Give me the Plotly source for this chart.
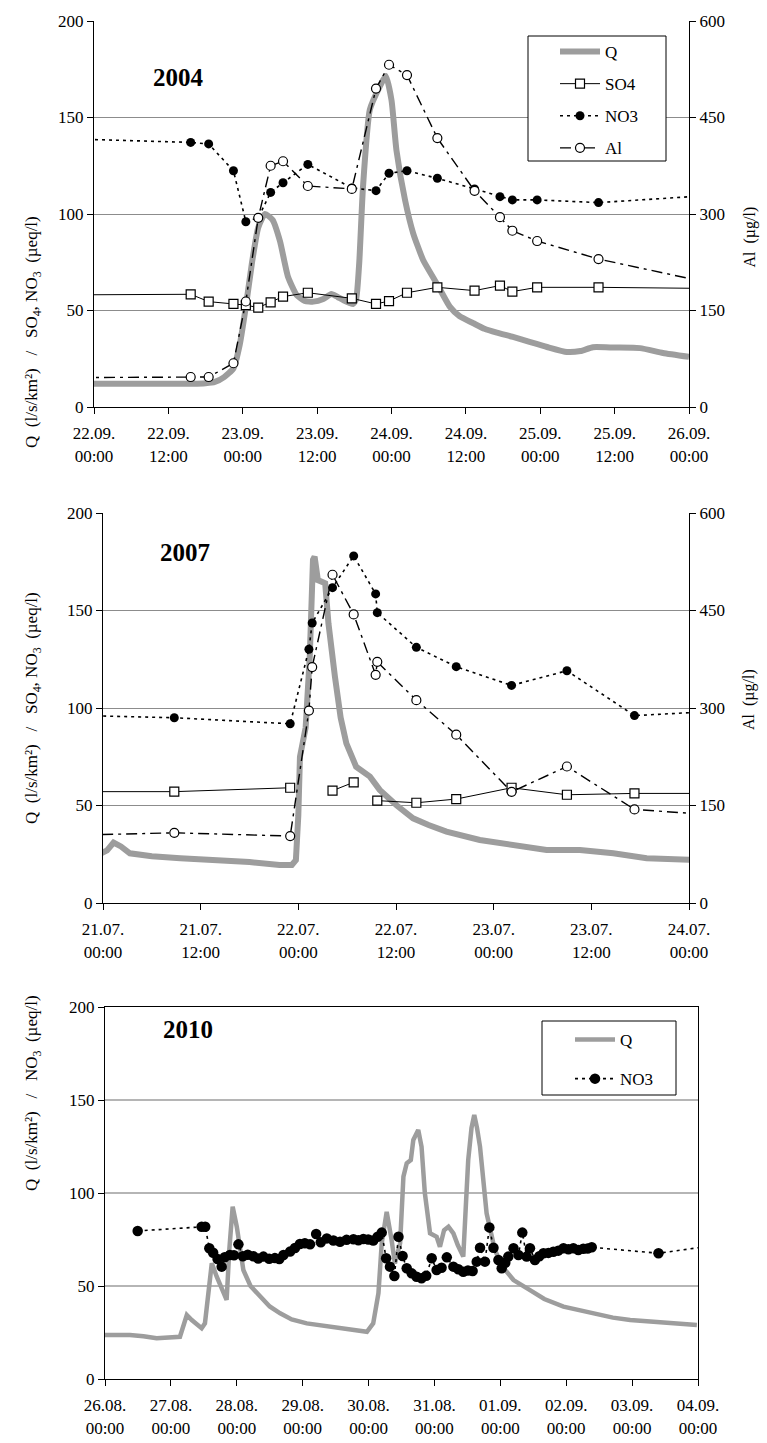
import pandas as pd
import plotly.graph_objects as go

W, H = 767, 1443
FONT = "Liberation Serif, Times New Roman, serif"

# ---------------- 2004 event (hours after 22.09.2004 00:00) ----------------
t04 = [-10, 15.6, 18.5, 22.5, 24.5, 26.5, 28.5, 30.5, 34.5, 41.6, 45.5, 47.6,
       50.5, 55.4, 61.4, 65.5, 67.5, 71.5, 81.4, 106]
so4_04 = [58.0, 58.4, 54.6, 53.4, 52.8, 51.5, 54.2, 57.2, 59.2, 56.3, 53.4, 54.9,
          59.2, 62.0, 60.3, 62.9, 59.8, 62.0, 62.0, 61.2]
no3_04 = [139.5, 137.1, 136.3, 122.4, 96.0, 98.0, 111.2, 116.2, 125.7, 113.5, 112.1, 121.1,
          122.4, 118.5, 113.0, 109.0, 107.3, 107.3, 105.9, 111.0]
al_04 = [45.5, 46.6, 46.6, 68, 164, 294, 375, 382, 343.5, 339, 495, 532,
         516, 418, 336, 295, 274, 258, 230, 179]
q04_t = [0, 6, 12, 16, 18, 19.5, 21, 22.5, 23.5, 24.5, 25.5, 26.5, 27.6, 28.8, 30,
         31.3, 32.7, 34, 35.4, 37, 38.3, 39.3, 40.2, 41.8, 42.3, 42.8, 43.4, 44.5,
         46.1, 47.1, 48, 48.8, 50.2, 51.5, 53.1, 55.3, 57.4, 59, 61.2, 63, 65, 67.6,
         70, 73.1, 76.3, 78.5, 80.5, 84, 88.1, 91.8, 96]
q04_v = [12, 12, 12, 12, 12.3, 13, 15.5, 20, 32, 52, 75, 93, 100, 97, 86,
         67.5, 58, 55, 54.6, 56, 58.5, 57, 55.4, 53.4, 56, 75, 114, 154,
         166, 171.5, 159, 133, 107, 90, 76.2, 64, 52, 47, 43.4, 40.5, 38.5, 36.3,
         34, 31.1, 28.5, 29, 31, 30.8, 30.5, 28, 26]

# ---------------- 2007 event (hours after 21.07.2007 00:00) ----------------
t07 = [-6, 8.76, 23.0, 25.3, 25.7, 28.2, 30.8, 33.5, 33.7, 38.5, 43.4, 50.2, 57.0, 65.3, 80]
so4_07 = [57.1, 57.1, 59.1, None, None, 57.6, 61.9, None, 52.5, 51.4, 53.3, 59.1, 55.5, 56.2, 56.2]
no3_07 = [96.5, 95.0, 91.9, 130.1, 143.6, 161.7, 178.0, 158.5, 148.9, 131.1, 121.2, 111.6, 119.1, 96.1, 99.4]
al_07 = [103.5, 108, 103, 296, 363, 505, 444, 351, 371, 312, 259, 171, 210, 144, 131]
q07_t = [-0.5, 0.5, 1.3, 2.2, 3.3, 6, 9.5, 12, 15.6, 18, 21.7, 23.2, 23.7, 24.0, 24.2,
         24.9, 25.4, 25.8, 26.0, 26.4, 27.3, 27.7, 28.5, 29.2, 29.9, 31.1, 32.8, 34,
         36.1, 38.1, 40, 42.2, 46.3, 50.4, 54.5, 58.6, 62.7, 66.8, 72.5]
q07_v = [25, 27, 31, 29, 25.5, 24, 22.9, 22.5, 21.7, 21, 19.5, 19.5, 22, 45, 75,
         90, 126, 176, 177.6, 165.6, 164, 143.4, 116, 95, 81.9, 69.9, 64.8, 58,
         50, 43.4, 40, 36.6, 32.3, 29.7, 27.2, 27.2, 25.5, 22.9, 22.1]

# ---------------- 2010 event (hours after 26.08.2010 00:00) ----------------
no3_10_t = [11.9, 35.2, 36.5, 38.0, 39.4, 41.0, 42.5, 43.6, 45.5, 47.0, 48.6, 50.2, 52.0,
            54.0, 55.8, 57.7, 59.8, 61.9, 63.5, 65.0, 67.4, 69.2, 71.0, 72.8, 74.7, 76.9,
            78.6, 80.8, 83.2, 85.6, 88.0, 90.5, 92.3, 94.1, 95.9, 97.7, 99.3, 100.8, 102.4,
            103.8, 105.4, 106.9, 108.4, 109.9, 111.7, 113.5, 115.3, 117.0, 119.0, 120.8,
            122.6, 124.5, 126.9, 128.7, 130.5, 132.2, 133.9, 135.4, 136.6, 138.4, 140.0,
            141.5, 143.3, 144.5, 145.8, 146.9, 148.8, 150.6, 152.0, 153.6, 154.8, 156.6,
            158.2, 159.7, 161.5, 163.3, 165.1, 167.0, 168.8, 170.6, 172.4, 174.2, 175.8,
            177.3, 201.6, 228]
no3_10_v = [79.6, 81.9, 81.9, 70.3, 67.9, 64.5, 60.4, 65.5, 66.7, 66.5, 72.4, 66.0, 66.8,
            66.0, 64.8, 65.8, 64.6, 65.0, 64.5, 66.7, 68.5, 70.4, 72.6, 73.0, 72.4, 78.0,
            73.5, 75.6, 74.5, 73.8, 74.8, 75.1, 74.6, 75.3, 75.0, 74.4, 76.5, 78.7, 64.9,
            60.4, 55.4, 76.5, 66.1, 59.5, 56.8, 55.0, 54.1, 55.5, 64.9, 58.6,
            59.8, 65.4, 60.4, 59.0, 57.7, 58.3, 58.1, 63.1, 70.6, 63.1, 81.5,
            70.6, 64.0, 59.5, 62.5, 65.8, 70.3, 66.7, 78.7, 65.8, 70.3, 64.0,
            66.0, 67.6, 67.8, 68.4, 69.0, 70.3, 69.8, 70.3, 69.4, 70.0, 70.2,
            70.8, 67.6, 73.0]
q10_t = [0, 9.1, 14, 18.8, 27.3, 29.8, 31.6, 33.5, 35.2, 36.4, 37.5, 38.9, 40.7, 42.5,
         44.3, 45.3, 46.5, 48, 50.4, 53, 56.5, 60, 63.8, 68, 73.5, 80, 88.1, 95.4, 97.7,
         99.6, 100.8, 102.6, 104.4, 105.6, 107.5, 108.7, 109.9, 111.4, 112.3, 113.5,
         114.1, 115.3, 116.5, 118.4, 120.8, 122, 123.5, 125.1, 126.9, 128.5, 130.5,
         131.5, 132.3, 133.5, 134.5, 135.5, 136.6, 139, 142, 145, 148.8, 154.8, 160,
         167, 173, 179.1, 185, 191.3, 197, 203.4, 209, 215.6]
q10_v = [23.7, 23.7, 23, 21.9, 22.7, 34.4, 31.7, 29, 27.3, 29.9, 45, 62.2, 55, 48,
         42.5, 70, 92.6, 81.9, 58.6, 50, 44.2, 39, 35.3, 32, 29.9, 28.5, 27.3, 25.4, 29.9,
         46.1, 73, 89.9, 74.7, 62.2, 73, 108.8, 116, 117.7, 128.5, 132,
         133.9, 124.9, 100, 78.3, 76.5, 71.1, 80, 81.9, 78.3, 72, 65.8,
         95, 117.7, 135, 141.9, 135, 124.9, 89.1, 69.4, 60, 53.2, 47.8, 43,
         38.9, 37, 35.3, 33, 31.7, 31, 29.9, 29.3, 29]

years = ["2004", "2007", "2010"]
starts = ["2004-09-22", "2007-07-21", "2010-08-26"]
spans_h = [96, 72, 216]
tick_step_h = [12, 12, 24]

NB = "\u00a0"
y_title_full = ("Q" + NB * 2 + "(l/s/km²)" + NB * 3 + "/" + NB * 3 +
                "SO<sub>4</sub>, NO<sub>3</sub>" + NB * 2 + "(µeq/l)")
y_title_no3 = ("Q" + NB * 2 + "(l/s/km²)" + NB * 3 + "/" + NB * 3 +
               "NO<sub>3</sub>" + NB * 2 + "(µeq/l)")
al_title = "Al" + NB * 2 + "(µg/l)"

# plot-area boxes in pixels: (left, top, right, bottom)
boxes = [(94, 21, 689, 407), (103, 513, 689, 903), (105, 1007, 698, 1379)]


def px_x(v):
    return v / W


def px_y(v):
    return 1 - v / H


def to_time(start, hours):
    base = pd.Timestamp(start)
    return [base + pd.Timedelta(hours=h) for h in hours]


Q_COLOR = "#9d9d9d"
SO4_MARK = dict(symbol="square", size=9, color="white", line=dict(color="black", width=1.2))
NO3_MARK = dict(symbol="circle", size=9, color="black")
AL_MARK = dict(symbol="circle", size=9, color="white", line=dict(color="black", width=1.2))
NO3_LINE = dict(color="black", width=1.6, dash="3px,4px")
AL_LINE = dict(color="black", width=1.4, dash="11px,5px,3px,5px")

fig = go.Figure()

# ---- panel 1: 2004 ----
fig.add_trace(go.Scatter(x=to_time(starts[0], q04_t), y=q04_v, mode="lines", name="Q",
                         line=dict(color=Q_COLOR, width=6, shape="spline", smoothing=0.5),
                         xaxis="x", yaxis="y", legendgroup="q", legend="legend"))
fig.add_trace(go.Scatter(x=to_time(starts[0], t04), y=so4_04, mode="lines+markers", name="SO4",
                         line=dict(color="black", width=1), marker=SO4_MARK,
                         xaxis="x", yaxis="y", legendgroup="so4", legend="legend"))
fig.add_trace(go.Scatter(x=to_time(starts[0], t04), y=no3_04, mode="lines+markers", name="NO3",
                         line=NO3_LINE, marker=NO3_MARK,
                         xaxis="x", yaxis="y", legendgroup="no3", legend="legend"))
fig.add_trace(go.Scatter(x=to_time(starts[0], t04), y=al_04, mode="lines+markers", name="Al",
                         line=AL_LINE, marker=AL_MARK,
                         xaxis="x", yaxis="y2", legendgroup="al", legend="legend"))

# ---- panel 2: 2007 ----
fig.add_trace(go.Scatter(x=to_time(starts[1], q07_t), y=q07_v, mode="lines", name="Q",
                         line=dict(color=Q_COLOR, width=6),
                         xaxis="x2", yaxis="y3", showlegend=False))
fig.add_trace(go.Scatter(x=to_time(starts[1], t07), y=so4_07, mode="lines+markers", name="SO4",
                         line=dict(color="black", width=1), marker=SO4_MARK, connectgaps=False,
                         xaxis="x2", yaxis="y3", showlegend=False))
fig.add_trace(go.Scatter(x=to_time(starts[1], t07), y=no3_07, mode="lines+markers", name="NO3",
                         line=NO3_LINE, marker=NO3_MARK,
                         xaxis="x2", yaxis="y3", showlegend=False))
fig.add_trace(go.Scatter(x=to_time(starts[1], t07), y=al_07, mode="lines+markers", name="Al",
                         line=AL_LINE, marker=AL_MARK,
                         xaxis="x2", yaxis="y4", showlegend=False))

# ---- panel 3: 2010 ----
fig.add_trace(go.Scatter(x=to_time(starts[2], q10_t), y=q10_v, mode="lines", name="Q",
                         line=dict(color=Q_COLOR, width=4.5),
                         xaxis="x3", yaxis="y5", legendgroup="q10", legend="legend2"))
fig.add_trace(go.Scatter(x=to_time(starts[2], no3_10_t), y=no3_10_v, mode="lines+markers", name="NO3",
                         line=dict(color="black", width=1.6, dash="3px,4px"),
                         marker=dict(symbol="circle", size=10.5, color="black"),
                         xaxis="x3", yaxis="y5", legendgroup="no310", legend="legend2"))

tickfont = dict(family=FONT, size=17, color="black")
common_x = dict(type="date", tickformat="%d.%m.<br>%H:%M", ticks="outside", ticklen=6,
                tickcolor="black", showline=True, linecolor="black", linewidth=1,
                showgrid=False, zeroline=False, tickfont=tickfont, automargin=False,
                ticklabelstandoff=5)
common_y = dict(range=[0, 200], dtick=50, ticks="outside", ticklen=6, tickcolor="black",
                showline=True, linecolor="black", linewidth=1, zeroline=False,
                tickfont=tickfont, automargin=False)
common_y2 = dict(range=[0, 600], dtick=150, side="right", ticks="outside", ticklen=6,
                 tickcolor="black", showline=True, linecolor="black", linewidth=1,
                 showgrid=False, zeroline=False, tickfont=tickfont, automargin=False)

layout = {}
x_names = ["xaxis", "xaxis2", "xaxis3"]
y_names = ["yaxis", "yaxis3", "yaxis5"]
y_refs = ["y", "y3", "y5"]
x_refs = ["x", "x2", "x3"]
for i in range(3):
    l, t, r, b = boxes[i]
    start = pd.Timestamp(starts[i])
    end = start + pd.Timedelta(hours=spans_h[i])
    xa = dict(common_x, domain=[px_x(l), px_x(r)], anchor=y_refs[i],
              range=[start, end], tick0=start, dtick=tick_step_h[i] * 3600 * 1000)
    ya = dict(common_y, domain=[px_y(b), px_y(t)], anchor=x_refs[i],
              gridcolor="#8c8c8c" if i < 2 else "#b5b5b5", gridwidth=1 if i < 2 else 1.5)
    if i == 2:
        xa["mirror"] = True
        ya["mirror"] = True
    layout[x_names[i]] = xa
    layout[y_names[i]] = ya

layout["yaxis2"] = dict(common_y2, overlaying="y", anchor="x")
layout["yaxis4"] = dict(common_y2, overlaying="y3", anchor="x2")

fig.update_layout(**layout)

annotations = []
# year labels
for (xc, yc), yr in zip([(151, 62), (158, 552), (161, 1045)], years):
    annotations.append(dict(x=px_x(xc), y=px_y(yc), xref="paper", yref="paper",
                            text="<b>%s</b>" % yr, showarrow=False,
                            font=dict(family=FONT, size=25, color="black")))
# axis titles
for yc, txt in [(214, y_title_full), (708, y_title_full), (1193, y_title_no3)]:
    annotations.append(dict(x=px_x(20), y=px_y(yc), xref="paper", yref="paper", text=txt,
                            textangle=-90, showarrow=False,
                            font=dict(family=FONT, size=17, color="black")))
for yc in [205, 700]:
    annotations.append(dict(x=px_x(760), y=px_y(yc), xref="paper", yref="paper", text=al_title,
                            textangle=-90, showarrow=False,
                            font=dict(family=FONT, size=16, color="black")))

shapes = []
for (x0, y0, x1, y1) in [(528, 36, 666, 161), (542, 1021, 676, 1095)]:
    shapes.append(dict(type="rect", xref="paper", yref="paper", layer="above",
                       x0=px_x(x0), x1=px_x(x1), y0=px_y(y1), y1=px_y(y0),
                       fillcolor="white", line=dict(color="black", width=1)))

legend_font = dict(family=FONT, size=17, color="black")
fig.update_layout(
    width=W, height=H, margin=dict(l=0, r=0, t=0, b=0, autoexpand=False),
    paper_bgcolor="white", plot_bgcolor="white",
    annotations=annotations, shapes=shapes,
    legend=dict(x=px_x(555), y=px_y(34), xanchor="left", yanchor="top",
                bgcolor="rgba(0,0,0,0)", borderwidth=0, font=legend_font,
                traceorder="grouped", tracegroupgap=7, itemwidth=40),
    legend2=dict(x=px_x(570), y=px_y(1022), xanchor="left", yanchor="top",
                 bgcolor="rgba(0,0,0,0)", borderwidth=0, font=legend_font,
                 traceorder="grouped", tracegroupgap=14, itemwidth=40),
)

fig.write_html(
    "out.html",
    post_script="document.body.style.margin='0';document.body.style.padding='0';"
                "document.documentElement.style.overflow='hidden';",
)
